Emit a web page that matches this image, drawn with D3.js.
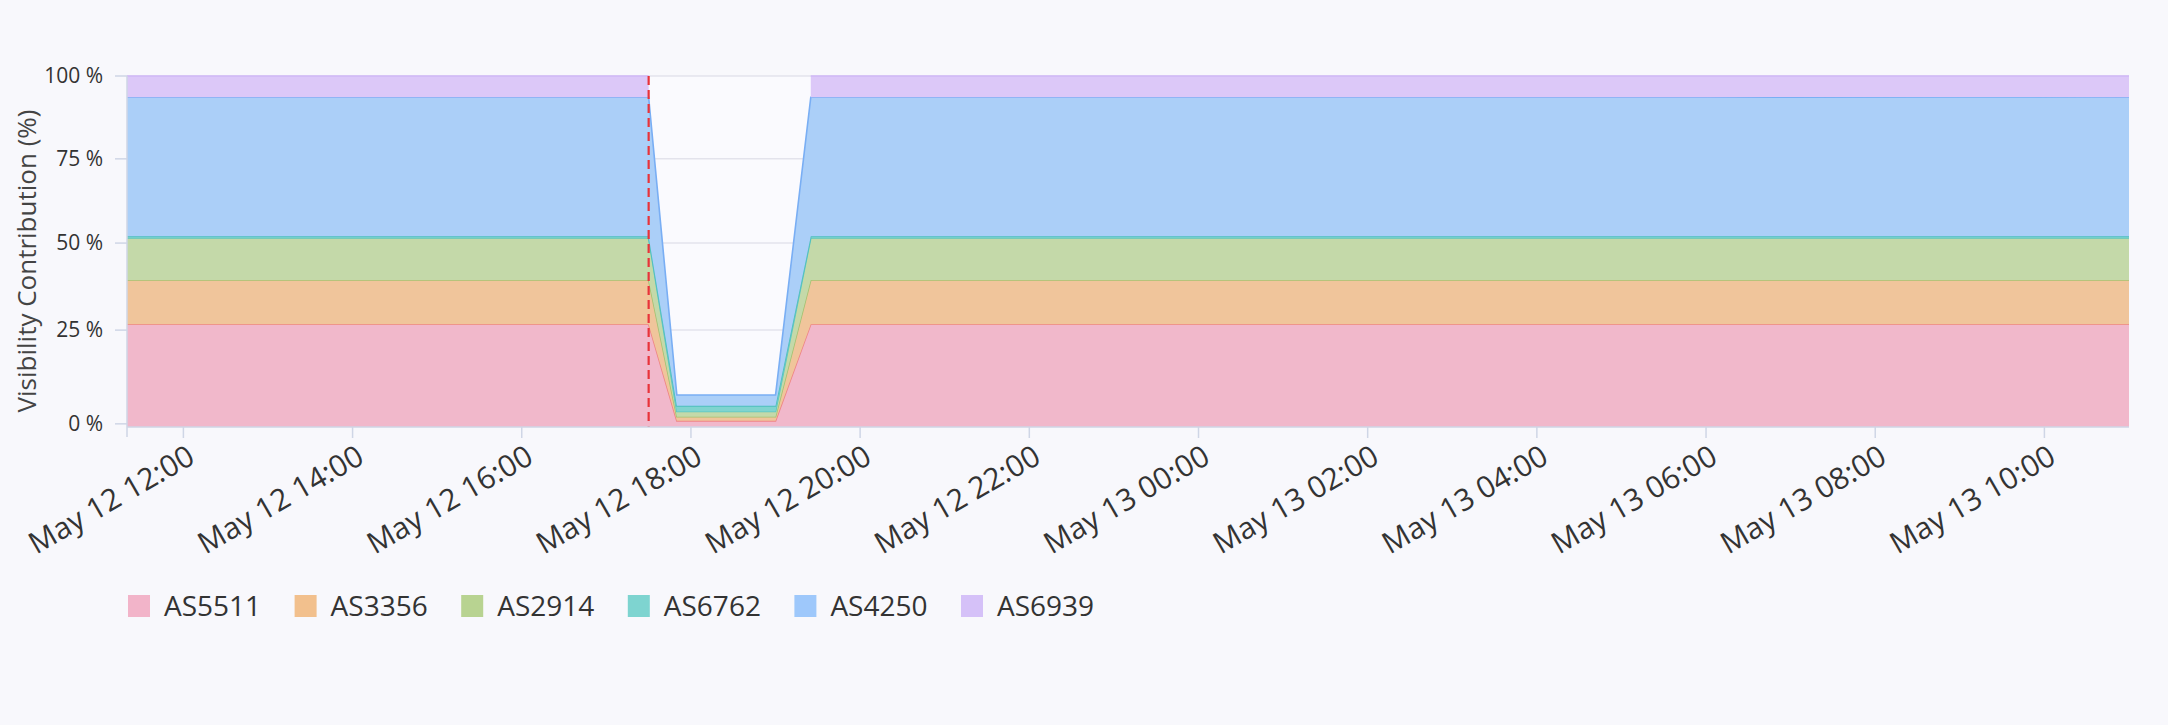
<!DOCTYPE html>
<html>
<head>
<meta charset="utf-8">
<script src="https://cdn.jsdelivr.net/npm/d3@7"></script>
<style>
  html, body { margin: 0; padding: 0; background: #f8f8fc; }
  svg { display: block; font-family: "Open Sans", sans-serif; }
</style>
</head>
<body>
<svg id="chart"></svg>
<script>
const W = 2168
const H = 725

// data, % of visibility per AS
const times = [
    "2024-05-12T11:20", "2024-05-12T14:00", "2024-05-12T16:00", "2024-05-12T17:30",
    "2024-05-12T17:50", "2024-05-12T19:00", "2024-05-12T19:25", "2024-05-12T22:00",
    "2024-05-13T02:00", "2024-05-13T06:00", "2024-05-13T09:00", "2024-05-13T11:00"
]
const asns = ["AS5511", "AS3356", "AS2914", "AS6762", "AS4250", "AS6939"]

const as5511 = [26.7, 26.7, 26.7, 26.7, 0.8, 0.8, 26.7, 26.7, 26.7, 26.7, 26.7, 26.7]
const as3356 = [12.7, 12.7, 12.7, 12.7, 1.1, 1.1, 12.7, 12.7, 12.7, 12.7, 12.7, 12.7]
const as2914 = [12.1, 12.1, 12.1, 12.1, 1.4, 1.4, 12.1, 12.1, 12.1, 12.1, 12.1, 12.1]
const as6762 = [0.5, 0.5, 0.5, 0.5, 1.5, 1.5, 0.5, 0.5, 0.5, 0.5, 0.5, 0.5]
const as4250 = [41.6, 41.6, 41.6, 41.6, 2.9, 2.9, 41.6, 41.6, 41.6, 41.6, 41.7, 41.6]
const as6939 = [6.4, 6.4, 6.4, 6.4, null, null, 6.4, 6.4, 6.4, 6.4, 6.3, 6.4]

const eventTime = "2024-05-12T17:30"
const xDomain = ["2024-05-12T11:20", "2024-05-13T11:00"]
const yTicks = [0, 25, 50, 75, 100]

const fills = ["#f1b8cb", "#f0c59b", "#c4d9a9", "#80d4cf", "#abcff8", "#dcc8f8"]
const strokes = ["#ef8585", "#a3c271", "#5cc6bf", "#4dbfbe", "#79aef4", "#d0b8f6"]
const swatches = ["#f2b4c9", "#f2c08d", "#b8d391", "#7ed4d0", "#9ec8fb", "#d5c1f8"]

const series = [as5511, as3356, as2914, as6762, as4250, as6939]

const parse = d3.isoParse
const rows = times.map((t, i) => {
    let r = { t: parse(t) }
    asns.forEach((k, j) => r[k] = series[j][i])
    return r
})

const margin = { top: 76, right: 39, bottom: 298, left: 127 }
const w = W - margin.left - margin.right
const h = H - margin.top - margin.bottom

const svg = d3.select("#chart").attr("width", W).attr("height", H)

svg.append("rect").attr("width", W).attr("height", H).attr("fill", "#f8f8fc")

const g = svg.append("g").attr("transform", `translate(${margin.left},${margin.top})`)

const x = d3.scaleTime().domain(xDomain.map(parse)).range([0, w])
// stops follow the tick spacing seen in the picture
const yStops = [0.991, 0.724, 0.476, 0.236, 0]
const y = d3.scaleLinear().domain(yTicks).range(yStops.map(f => f * h))

g.append("rect").attr("width", w).attr("height", h).attr("fill", "#fafafe")

// grid
g.selectAll("line.grid")
    .data(yTicks)
    .enter()
    .append("line")
    .attr("class", "grid")
    .attr("x1", 0).attr("x2", w)
    .attr("y1", d => y(d)).attr("y2", d => y(d))
    .attr("stroke", "#e3e3ec")
    .attr("stroke-width", 1.5)

const stack = d3.stack()
    .keys(asns)
    .value((d, k) => d[k] == null ? 0 : d[k])
const layers = stack(rows)

layers.forEach((layer, i) => {
    const key = asns[i]
    const area = d3.area()
        .defined(d => d.data[key] != null)
        .x(d => x(d.data.t))
        .y0(d => i === 0 ? h : y(d[0]))
        .y1(d => y(d[1]))
    const line = d3.line()
        .defined(d => d.data[key] != null)
        .x(d => x(d.data.t))
        .y(d => y(d[1]))

    g.append("path")
        .datum(layer)
        .attr("d", area)
        .attr("fill", fills[i])

    g.append("path")
        .datum(layer)
        .attr("d", line)
        .attr("fill", "none")
        .attr("stroke", strokes[i])
        .attr("stroke-width", 1.6)
})

// event marker
g.append("line")
    .attr("x1", x(parse(eventTime))).attr("x2", x(parse(eventTime)))
    .attr("y1", 0).attr("y2", h)
    .attr("stroke", "#e8333a")
    .attr("stroke-width", 2.2)
    .attr("stroke-dasharray", "9,5")

// axes
const axisColor = "#cfd6e6"

g.append("line")
    .attr("x1", 0).attr("x2", 0).attr("y1", 0).attr("y2", h + 10)
    .attr("stroke", axisColor).attr("stroke-width", 1.5)
g.append("line")
    .attr("x1", 0).attr("x2", w).attr("y1", h).attr("y2", h)
    .attr("stroke", axisColor).attr("stroke-width", 1.5)

const yAxis = g.append("g")
yAxis.selectAll("line")
    .data(yTicks)
    .enter()
    .append("line")
    .attr("x1", -12).attr("x2", 0)
    .attr("y1", d => y(d)).attr("y2", d => y(d))
    .attr("stroke", axisColor).attr("stroke-width", 1.5)
yAxis.selectAll("text")
    .data(yTicks)
    .enter()
    .append("text")
    .attr("x", -24)
    .attr("y", d => y(d))
    .attr("dy", "0.35em")
    .attr("text-anchor", "end")
    .attr("font-size", 21)
    .attr("fill", "#333")
    .text(d => d + " %")

const xTicks = x.ticks(d3.timeHour.every(2))
const fmt = d3.timeFormat("%b %d %H:%M")
const xAxis = g.append("g")
xAxis.selectAll("line")
    .data(xTicks)
    .enter()
    .append("line")
    .attr("x1", d => x(d)).attr("x2", d => x(d))
    .attr("y1", h).attr("y2", h + 11)
    .attr("stroke", axisColor).attr("stroke-width", 1.5)
xAxis.selectAll("text")
    .data(xTicks)
    .enter()
    .append("text")
    .attr("transform", d => `translate(${x(d) + 8},${h + 26}) rotate(-30)`)
    .attr("dy", "0.35em")
    .attr("text-anchor", "end")
    .attr("font-size", 30)
    .attr("fill", "#333")
    .text(d => fmt(d))

svg.append("text")
    .attr("transform", `translate(27,${margin.top + 185}) rotate(-90)`)
    .attr("dy", "0.35em")
    .attr("text-anchor", "middle")
    .attr("font-size", 26)
    .attr("fill", "#444")
    .text("Visibility Contribution (%)")

// legend
const legend = svg.append("g").attr("transform", "translate(128,606)")
const item = legend.selectAll("g")
    .data(asns)
    .enter()
    .append("g")
    .attr("transform", (d, i) => `translate(${i * 166.6},0)`)
item.append("rect")
    .attr("x", 0).attr("y", -11)
    .attr("width", 22).attr("height", 22)
    .attr("fill", (d, i) => swatches[i])
item.append("text")
    .attr("x", 36)
    .attr("dy", "0.35em")
    .attr("font-size", 28)
    .attr("fill", "#333")
    .text(d => d)
</script>
</body>
</html>
